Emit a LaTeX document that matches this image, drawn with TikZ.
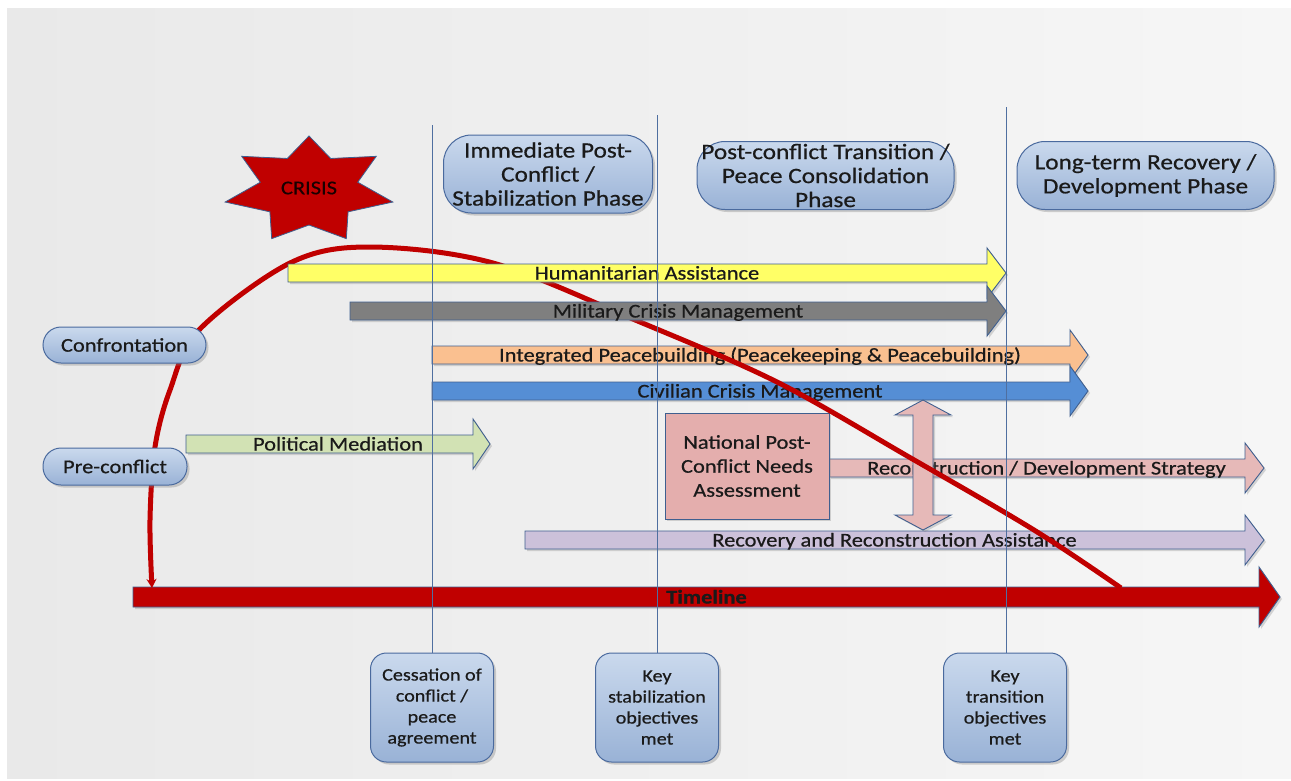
\documentclass[tikz,border=0pt]{standalone}
\usepackage{fontspec}
\setmainfont{Carlito}[FakeStretch=1.15, FakeBold=0.6]
\usetikzlibrary{shadows,arrows.meta}
\definecolor{boxtop}{HTML}{CAD9ED}
\definecolor{boxbot}{HTML}{99B2D6}
\definecolor{boxline}{HTML}{4A6A9E}
\definecolor{arrline}{HTML}{3F5F8F}
\definecolor{crimson}{HTML}{C00000}
\definecolor{vlinecol}{HTML}{4F6FA0}
\definecolor{yel}{HTML}{FFFF66}
\definecolor{milgray}{HTML}{7F7F7F}
\definecolor{peach}{HTML}{FAC090}
\definecolor{civblue}{HTML}{558ED5}
\definecolor{polgreen}{HTML}{D2E2B4}
\definecolor{recpink}{HTML}{E6B9B8}
\definecolor{natpink}{HTML}{E4AEAD}
\definecolor{lav}{HTML}{CCC1DA}
\definecolor{bgleft}{HTML}{E9E9E9}
\definecolor{bgright}{HTML}{F6F6F6}
\definecolor{txt}{HTML}{1A1A1A}
\newcommand{\myarrow}[9]{%
  \path[arrshape, fill=#8] (#2,#4-#5) -- (#3-#7,#4-#5) -- (#3-#7,#4-#6) -- (#3,#4)
     -- (#3-#7,#4+#6) -- (#3-#7,#4+#5) -- (#2,#4+#5) -- cycle;
  \node[arrtext] (#1) at ({(#2+#3)/2},#4+6.5) {#9};}
\tikzset{
  bluebox/.style={draw=boxline, line width=1pt, top color=boxtop, bottom color=boxbot,
    drop shadow={opacity=0.35, shadow xshift=2.5pt, shadow yshift=-2.5pt},
    align=center, text=txt, inner sep=0pt},
  phasebox/.style={bluebox, rounded corners=28pt, font=\fontsize{22}{24}\selectfont},
  pillbox/.style={bluebox, rounded corners=18pt, font=\fontsize{19.5}{22}\selectfont},
  keybox/.style={bluebox, rounded corners=16pt, minimum width=123pt, minimum height=109pt,
    font=\fontsize{17.5}{21}\selectfont},
  arrshape/.style={draw=arrline, line width=0.9pt,
    drop shadow={opacity=0.3, shadow xshift=2pt, shadow yshift=-2pt}},
  arrtext/.style={anchor=base, inner sep=0pt, text=txt, font=\fontsize{19.5}{22}\selectfont},
  vline/.style={draw=vlinecol, line width=1pt},
  redcurve/.style={draw=crimson, line width=5pt},
  starshape/.style={fill=crimson, draw=arrline, line width=0.8pt},
}
\begin{document}
\begin{tikzpicture}[x=1pt,y=-1pt]
\useasboundingbox (0,0) rectangle (1291,780);
\fill[white] (0,0) rectangle (1291,780);
\shade[left color=bgleft, right color=bgright] (7,8) rectangle (1291,778);

% lower arrows (beneath the red curve)
\myarrow{integ}{432}{1088}{355}{9}{25}{18}{peach}{Integrated Peacebuilding (Peacekeeping \& Peacebuilding)}
\myarrow{civil}{432}{1088}{391}{9}{25}{18}{civblue}{Civilian Crisis Management}
\myarrow{polit}{186}{490}{444}{9}{25}{17}{polgreen}{Political Mediation}
\myarrow{recov}{525}{1264}{540}{9}{25}{19}{lav}{Recovery and Reconstruction Assistance}
\myarrow{recon}{829}{1264}{468}{9}{25}{19}{recpink}{Reconstruction / Development Strategy}

% national assessment box
\node[draw=arrline, line width=1pt, fill=natpink, minimum width=164pt, minimum height=106pt,
  align=center, inner sep=0pt, text=txt, font=\fontsize{19.5}{24}\selectfont,
  drop shadow={opacity=0.3, shadow xshift=2pt, shadow yshift=-2pt}]
  (npna) at (747,466) {National Post-\\Conflict Needs\\Assessment};

% vertical double arrow
\path[arrshape, fill=recpink] (923,400) -- (951,415) -- (933,415) -- (933,515) -- (951,515)
  -- (923,530) -- (895,515) -- (913,515) -- (913,415) -- (895,415) -- cycle;

% timeline
\myarrow{timeline}{133}{1280}{597}{10}{30}{21}{crimson}{\bfseries Timeline}

% red curve
\draw[redcurve, -{Stealth[length=9pt,width=10pt]}] plot[smooth, tension=0.55] coordinates
  {(1121,588) (1034,530) (909,457) (777,382) (640,322) (493,263) (369,247) (290,263)
   (199,330) (170,390) (155,447) (150,520) (152,588)};

% upper arrows (above the red curve)
\myarrow{human}{288}{1006}{273}{9}{25}{19}{yel}{Humanitarian Assistance}
\myarrow{milit}{350}{1006}{311}{9}{25}{19}{milgray}{Military Crisis Management}

% milestone boxes
\node[keybox] (cess) at (432,707.5) {Cessation of\\conflict /\\peace\\agreement};
\node[keybox] (kstab) at (657,707.5) {Key\\stabilization\\objectives\\met};
\node[keybox] (ktran) at (1005,707.5) {Key\\transition\\objectives\\met};

% phase separator lines
\coordinate (v1) at (432,125);
\coordinate (v2) at (657,115);
\coordinate (v3) at (1006,107);
\draw[vline] (v1) -- (cess.north);
\draw[vline] (v2) -- (kstab.north);
\draw[vline] (v3) -- (v3 |- ktran.north);

% phase boxes
\node[phasebox, minimum width=209pt, minimum height=78pt] (imm) at (548,174) {Immediate Post-\\Conflict /\\Stabilization Phase};
\node[phasebox, minimum width=257pt, minimum height=68pt] (trans) at (825.5,175.5) {Post-conflict Transition /\\Peace Consolidation\\Phase};
\node[phasebox, minimum width=257pt, minimum height=68pt] (longt) at (1145.5,175.5) {Long-term Recovery /\\Development Phase};

% situation boxes
\node[pillbox, minimum width=163pt, minimum height=36pt] (confr) at (124.5,345) {Confrontation};
\node[pillbox, minimum width=144pt, minimum height=37pt] (precon) at (115,466.5) {Pre-conflict};

% crisis star
\path[starshape] plot[samples at={0,...,13}, variable=\k]
  ({309+ifthenelse(mod(\k,2)==0,86,50)*cos(90+\k*360/14)},
   {190-ifthenelse(mod(\k,2)==0,54,35)*sin(90+\k*360/14)}) -- cycle;
\node[font=\fontsize{19.5}{22}\selectfont, text=black!90!red, inner sep=0pt] (crisis) at (309,188) {CRISIS};
\end{tikzpicture}
\end{document}
